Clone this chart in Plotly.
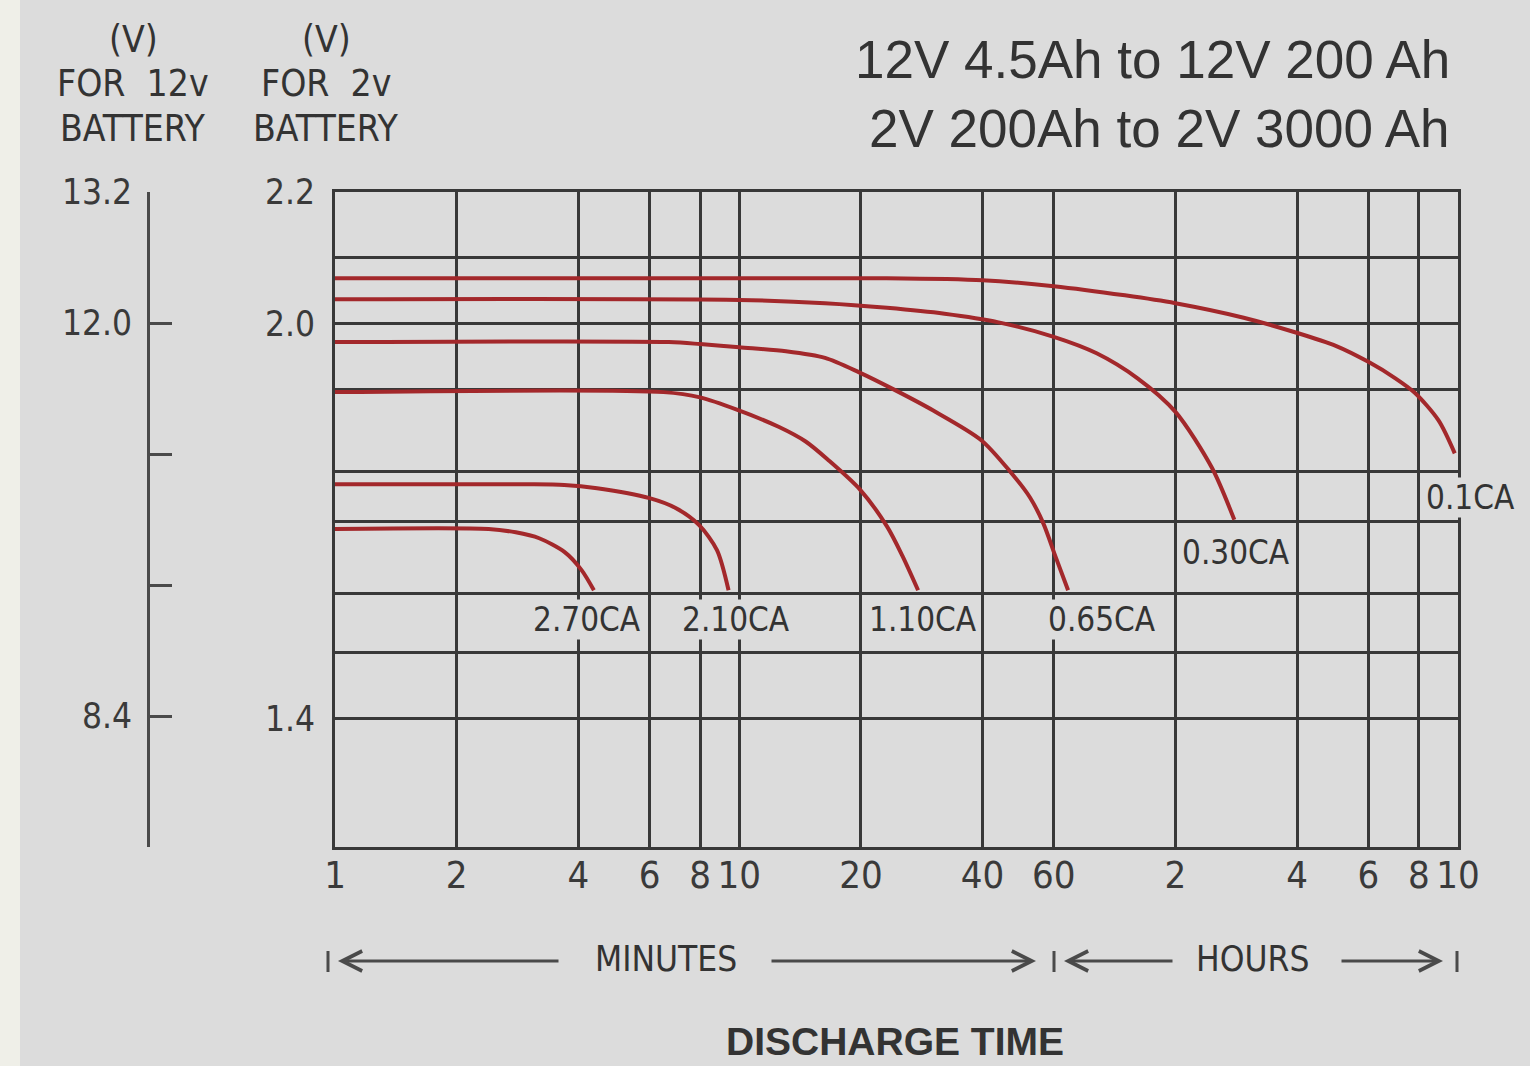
import math
import plotly.graph_objects as go

# ---------------- data ----------------
# discharge time in minutes, terminal voltage per cell (2 V scale)
t_01 = [1, 10, 23, 40, 60, 90, 120, 177, 237, 300, 360, 420, 469, 537, 589]
v_01 = [2.069, 2.069, 2.069, 2.066, 2.057, 2.043, 2.031, 2.009, 1.987, 1.966, 1.942, 1.917, 1.895, 1.853, 1.803]

t_030 = [1, 10, 16.3, 23.2, 32.2, 43.8, 60, 76.6, 96.7, 120, 147.7, 167.8]
v_030 = [2.037, 2.036, 2.031, 2.024, 2.015, 2.002, 1.980, 1.955, 1.917, 1.866, 1.781, 1.702]

t_065 = [1, 6.7, 8, 10, 13.05, 16.3, 19.8, 24.3, 30.2, 39.7, 47, 52.4, 56.5, 60.7, 65.1]
v_065 = [1.972, 1.972, 1.969, 1.964, 1.958, 1.948, 1.926, 1.899, 1.868, 1.823, 1.774, 1.736, 1.697, 1.645, 1.595]

t_110 = [1, 6.5, 8, 9.9, 12.55, 14.6, 16.6, 19.9, 23.2, 25.3, 27.7]
v_110 = [1.896, 1.896, 1.888, 1.869, 1.843, 1.821, 1.793, 1.748, 1.692, 1.648, 1.595]

t_210 = [1, 2.96, 3.69, 4.45, 6, 6.96, 7.96, 8.81, 9.41]
v_210 = [1.756, 1.756, 1.755, 1.750, 1.735, 1.720, 1.694, 1.656, 1.595]

t_270 = [1, 2.4, 2.8, 3.2, 3.7, 4.07, 4.37]
v_270 = [1.688, 1.688, 1.683, 1.674, 1.653, 1.626, 1.595]

series_names = ["0.1CA", "0.30CA", "0.65CA", "1.10CA", "2.10CA", "2.70CA"]
series_t = [t_01, t_030, t_065, t_110, t_210, t_270]
series_v = [v_01, v_030, v_065, v_110, v_210, v_270]

# label anchor points (time in minutes, voltage)
label_t = [600, 169, 79, 28.5, 9.83, 4.2]
label_v = [1.736, 1.653, 1.550, 1.550, 1.550, 1.550]

# x axis: minutes (1 .. 600)
x_tickvals = [1, 2, 4, 6, 8, 10, 20, 40, 60, 120, 240, 360, 480, 600]
x_ticktext = ["1", "2", "4", "6", "8", "10", "20", "40", "60", "2", "4", "6", "8", "10"]

# y axis (2 V battery)
y_tickvals = [2.2, 2.1, 2.0, 1.9, 1.775, 1.7, 1.59, 1.5, 1.4]
y_ticktext = ["2.2", "", "2.0", "", "", "", "", "", "1.4"]

# 12 V battery scale
y12_tickvals = [13.2, 12.0, 10.8, 9.6, 8.4, 7.2]
y12_ticktext = ["13.2", "12.0", "", "", "8.4", ""]

# ---------------- layout helpers ----------------
W, H = 1530, 1066
ML, MR, MT, MB = 40, 72, 192, 219
PW = W - ML - MR
PH = H - MT - MB


def px(x):
    return (x - ML) / PW


def py(y):
    return (H - MB - y) / PH


BG = "#dcdcdc"
GRID = "#383838"
RED = "#a3282b"
TXT = "#333333"
NARROW = "Liberation Sans Narrow, Arial Narrow, DejaVu Sans Condensed, Liberation Sans, sans-serif"
SANS = "Liberation Sans, Arial, sans-serif"

fig = go.Figure()

for name, tx, vy in zip(series_names, series_t, series_v):
    fig.add_trace(go.Scatter(
        x=tx, y=vy, mode="lines", name=name,
        line=dict(color=RED, width=4, shape="spline", smoothing=0.8),
        showlegend=False, hoverinfo="skip",
    ))

# empty trace to bind the 12 V scale
fig.add_trace(go.Scatter(x=[], y=[], yaxis="y2", showlegend=False, hoverinfo="skip"))

annotations = []
for name, lt, lv in zip(series_names, label_t, label_v):
    a = dict(x=math.log10(lt), y=lv, xref="x", yref="y", text=name, showarrow=False,
             font=dict(family=NARROW, size=33, color=TXT), xanchor="center", yanchor="middle",
             bgcolor=BG, borderpad=0)
    if lt >= 600:
        a["x"] = math.log10(600)
        a["xshift"] = 12
    annotations.append(a)

# titles
for yy, txt in [(60, "12V 4.5Ah to 12V 200 Ah"), (128, "2V 200Ah to 2V 3000 Ah")]:
    annotations.append(dict(x=px(1452), y=py(yy), xref="paper", yref="paper", text=txt,
                            showarrow=False, xanchor="right", yanchor="middle",
                            font=dict(family=SANS, size=53, color=TXT)))

# axis headers
for cx, lines in [(133, ["(V)", "FOR  12v", "BATTERY"]), (326, ["(V)", "FOR  2v", "BATTERY"])]:
    for yy, txt in zip([40, 83, 128], lines):
        annotations.append(dict(x=px(cx), y=py(yy), xref="paper", yref="paper", text=txt,
                                showarrow=False, xanchor="center", yanchor="middle",
                                font=dict(family=NARROW, size=37, color=TXT)))

# MINUTES / HOURS row
ARROW_Y = 961
annotations += [
    dict(x=px(666), y=py(ARROW_Y - 2), xref="paper", yref="paper", text="MINUTES", showarrow=False,
         xanchor="center", yanchor="middle", font=dict(family=NARROW, size=35, color=TXT)),
    dict(x=px(1252), y=py(ARROW_Y - 2), xref="paper", yref="paper", text="HOURS", showarrow=False,
         xanchor="center", yanchor="middle", font=dict(family=NARROW, size=35, color=TXT)),
    dict(x=px(895), y=py(1041), xref="paper", yref="paper", text="<b>DISCHARGE TIME</b>",
         showarrow=False, xanchor="center", yanchor="middle",
         font=dict(family=SANS, size=39, color=TXT)),
]
for head, tail in [(338, 560), (1036, 770), (1064, 1174), (1443, 1340)]:
    annotations.append(dict(x=px(head), y=py(ARROW_Y), ax=tail - head, ay=0,
                            xref="paper", yref="paper", axref="pixel", ayref="pixel",
                            text="", showarrow=True, arrowhead=5, arrowsize=1.3,
                            arrowwidth=3, arrowcolor="#4a4a4a"))

shapes = [
    dict(type="rect", xref="paper", yref="paper", x0=px(0), x1=px(20), y0=py(H), y1=py(0),
         fillcolor="#efefe8", line=dict(width=0), layer="below"),
]
for bx in [328, 1054, 1457]:
    shapes.append(dict(type="line", xref="paper", yref="paper", x0=px(bx), x1=px(bx),
                       y0=py(951), y1=py(972), line=dict(color="#4a4a4a", width=3)))

fig.update_layout(
    width=W, height=H,
    margin=dict(l=ML, r=MR, t=MT, b=MB, pad=0),
    paper_bgcolor=BG, plot_bgcolor=BG,
    annotations=annotations, shapes=shapes,
    xaxis=dict(
        type="log", range=[0, math.log10(600)], domain=[px(335), 1],
        tickmode="array", tickvals=x_tickvals, ticktext=x_ticktext,
        showgrid=True, gridcolor=GRID, gridwidth=3,
        showline=True, linecolor=GRID, linewidth=3, mirror=True,
        ticks="", ticklabelstandoff=-8, zeroline=False,
        tickfont=dict(family=NARROW, size=38, color="#3a3a3a"),
    ),
    yaxis=dict(
        range=[1.205, 2.2],
        tickmode="array", tickvals=y_tickvals, ticktext=y_ticktext,
        showgrid=True, gridcolor=GRID, gridwidth=3,
        showline=True, linecolor=GRID, linewidth=3, mirror=True,
        ticks="", ticklabelstandoff=10, zeroline=False,
        tickfont=dict(family=NARROW, size=35, color="#3a3a3a"),
    ),
    yaxis2=dict(
        overlaying="y", anchor="free", position=px(148), side="left",
        range=[7.2, 13.2], tickmode="array", tickvals=y12_tickvals, ticktext=y12_ticktext,
        ticks="inside", ticklen=22, tickwidth=3, tickcolor="#4a4a4a",
        showline=True, linecolor="#4a4a4a", linewidth=3,
        showgrid=False, zeroline=False, ticklabelstandoff=8,
        tickfont=dict(family=NARROW, size=35, color="#3a3a3a"),
    ),
)

fig.write_html(
    "out.html",
    config={"displayModeBar": False},
    post_script="document.body.style.margin='0';document.body.style.background='#dcdcdc';",
)
